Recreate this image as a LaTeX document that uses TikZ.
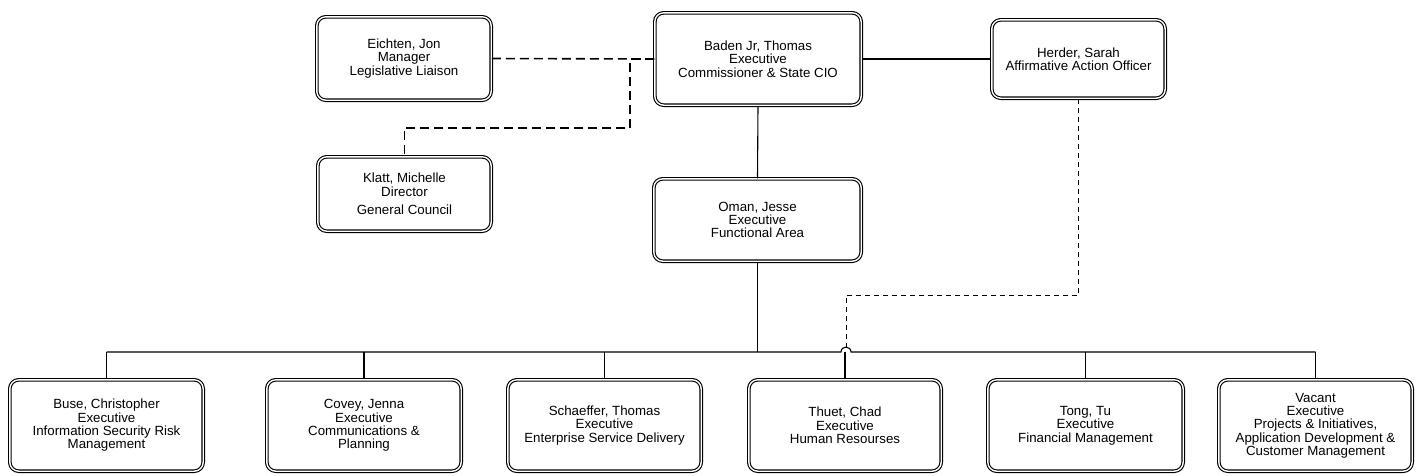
\documentclass[tikz,border=0pt]{standalone}
\usepackage{fontspec}
\setmainfont{Liberation Sans}
\begin{document}
\begin{tikzpicture}[x=1pt,y=-1pt,
  box/.style={draw, rounded corners=9pt, double=white, double distance=1.4pt, line width=1.1pt,
    align=center, font=\fontsize{13.3}{13.3}\selectfont, inner sep=0pt},
  conn/.style={line width=1.1pt},
  thickconn/.style={line width=1.9pt},
  dashthick/.style={line width=1.6pt, dash pattern=on 9pt off 5pt},
  dashthin/.style={line width=1pt, dash pattern=on 5pt off 4pt}]
\newcommand\obox[6]{\node[box, minimum width={(#4-#2-3.6)*1pt}, minimum height={(#5-#3-3.6)*1pt}] (#1) at ({(#2+#4)/2},{(#3+#5)/2}) {#6};}
\useasboundingbox (0,0) rectangle (1422,475);
% top level
\obox{eichten}{315}{15}{493}{102}{Eichten, Jon\\Manager\\Legislative Liaison}
\obox{klatt}{316}{155}{493}{233}{Klatt, Michelle\\Director\\[5pt]General Council}
\obox{baden}{653}{11}{863}{107}{Baden Jr, Thomas\\Executive\\Commissioner \& State CIO}
\obox{herder}{990}{18}{1167}{100}{Herder, Sarah\\Affirmative Action Officer}
\obox{oman}{652}{177}{863}{263}{Oman, Jesse\\Executive\\Functional Area}
% bottom row
\obox{buse}{8}{378}{205}{473}{Buse, Christopher\\Executive\\Information Security Risk\\Management}
\obox{covey}{265}{378}{463}{473}{Covey, Jenna\\Executive\\Communications \&\\Planning}
\obox{schaeffer}{506}{378}{703}{473}{Schaeffer, Thomas\\Executive\\Enterprise Service Delivery}
\obox{thuet}{747}{378}{943}{473}{Thuet, Chad\\Executive\\Human Resourses}
\obox{tong}{986}{378}{1185}{473}{Tong, Tu\\Executive\\Financial Management}
\obox{vacant}{1217}{378}{1414}{473}{Vacant\\Executive\\Projects \& Initiatives,\\Application Development \&\\Customer Management}
% connectors
\coordinate (bus) at (758,352);
\draw[conn] (baden.east) -- (herder.west);
\draw[conn] (baden.south) -- (oman.north);
\draw[thickconn] (oman.south) -- (oman.south |- bus);
\draw[dashthick] (eichten.east) -- (baden.west);
\draw[dashthick] (baden.west) -| (630,128) -| (klatt.north);
\draw[conn] (buse.north |- bus) -- (841,352) .. controls (841,345.5) and (851,345.5) .. (851,352) -- (vacant.north |- bus);
\foreach \c in {buse,covey,schaeffer,thuet,tong,vacant}
  \draw[conn] (\c.north) -- (\c.north |- bus);
\draw[dashthin] (herder.south) |- (846,295) -- (846,350);
\end{tikzpicture}
\end{document}
